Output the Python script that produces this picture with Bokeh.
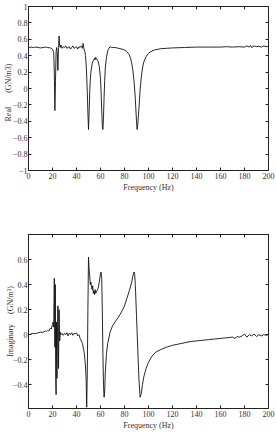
from bokeh.plotting import figure
from bokeh.layouts import column
from bokeh.models import Range1d, FixedTicker, LinearAxis
from bokeh.embed import file_html
from bokeh.resources import INLINE

# ---- data ----
real_freq = [0, 2, 4, 6, 8, 10, 12, 14, 16, 18, 19, 20, 21, 21.5, 22, 22.5, 23, 23.5, 24, 24.5,
             25, 25.5, 26, 26.5, 27, 28, 29, 30, 31, 32, 33, 34, 35, 36, 37, 38, 39, 40, 41, 42,
             43, 44, 45, 45.5, 46, 46.5, 47, 47.5, 48, 48.5, 49, 49.5, 50, 50.5, 51, 51.5, 52, 53,
             54, 55, 55.5, 56, 56.5, 57, 58, 59, 60, 60.5, 61, 61.5, 62, 62.5, 63, 63.5, 64, 65,
             66, 67, 68, 69, 70, 72, 75, 78, 80, 82, 84, 85, 86, 87, 88, 89, 90, 90.5, 91, 92, 93,
             94, 95, 96, 98, 100, 102, 105, 110, 115, 120, 130, 140, 150, 160, 165, 170, 175, 180,
             182, 184, 185, 186, 188, 190, 192, 194, 196, 198, 200]
real_vals = [0.50, 0.505, 0.50, 0.505, 0.50, 0.495, 0.50, 0.505, 0.50, 0.495, 0.49, 0.48, 0.44,
             0.20, -0.27, 0.10, 0.45, 0.50, 0.42, 0.22, 0.50, 0.64, 0.52, 0.50, 0.53, 0.49, 0.51,
             0.50, 0.52, 0.49, 0.50, 0.51, 0.48, 0.50, 0.52, 0.49, 0.50, 0.51, 0.48, 0.51, 0.50,
             0.52, 0.49, 0.55, 0.50, 0.47, 0.45, 0.40, 0.30, 0.15, -0.05, -0.30, -0.50, -0.30,
             -0.05, 0.10, 0.20, 0.30, 0.34, 0.37, 0.35, 0.38, 0.36, 0.36, 0.33, 0.27, 0.12, -0.05,
             -0.25, -0.45, -0.50, -0.35, -0.10, 0.10, 0.25, 0.38, 0.46, 0.49, 0.51, 0.50, 0.50,
             0.50, 0.49, 0.48, 0.47, 0.45, 0.41, 0.37, 0.31, 0.22, 0.08, -0.12, -0.40, -0.50,
             -0.45, -0.25, -0.02, 0.14, 0.25, 0.32, 0.39, 0.43, 0.45, 0.47, 0.485, 0.49, 0.495,
             0.50, 0.505, 0.505, 0.505, 0.51, 0.505, 0.51, 0.505, 0.52, 0.505, 0.525, 0.50, 0.52,
             0.51, 0.515, 0.505, 0.52, 0.51, 0.515]

imag_freq = [0, 2, 4, 6, 8, 10, 12, 14, 15, 16, 17, 18, 19, 20, 20.5, 21, 21.5, 22, 22.3, 22.7,
             23, 23.3, 23.7, 24, 24.5, 25, 25.5, 26, 26.5, 27, 28, 29, 30, 31, 32, 33, 34, 35, 36,
             37, 38, 39, 40, 41, 42, 43, 44, 45, 45.5, 46, 46.5, 47, 47.5, 48, 48.5, 49, 49.5, 50,
             50.5, 51, 51.5, 52, 52.5, 53, 53.5, 54, 54.5, 55, 55.5, 56, 57, 58, 59, 60, 60.5, 61,
             61.5, 62, 62.5, 63, 63.5, 64, 65, 66, 68, 70, 72, 75, 78, 80, 82, 84, 86, 87, 88, 88.5,
             89, 90, 91, 92, 93, 94, 95, 96, 98, 100, 103, 106, 110, 115, 120, 125, 130, 135, 140,
             145, 150, 155, 160, 165, 170, 172, 174, 176, 178, 180, 182, 184, 186, 188, 190, 192,
             194, 196, 198, 200]
imag_vals = [0.0, 0.005, 0.01, 0.008, 0.015, 0.02, 0.018, 0.03, 0.025, 0.035, 0.03, 0.05, 0.045,
             0.08, 0.10, 0.06, 0.45, -0.10, 0.40, -0.35, -0.48, 0.10, -0.35, -0.10, 0.23, -0.27,
             0.20, -0.05, 0.02, 0.0, 0.01, -0.005, 0.01, 0.0, 0.015, -0.01, 0.012, 0.0, 0.015,
             -0.005, 0.01, 0.005, 0.015, -0.01, 0.0, -0.03, -0.05, -0.07, -0.10, -0.12, -0.15,
             -0.20, -0.25, -0.35, -0.58, -0.30, 0.20, 0.62, 0.52, 0.47, 0.40, 0.42, 0.38, 0.36,
             0.39, 0.33, 0.35, 0.32, 0.36, 0.33, 0.35, 0.37, 0.42, 0.49, 0.50, 0.45, 0.20, -0.15,
             -0.40, -0.50, -0.45, -0.30, -0.15, -0.07, 0.02, 0.07, 0.10, 0.14, 0.19, 0.23, 0.29,
             0.35, 0.42, 0.47, 0.50, 0.48, 0.40, 0.15, -0.10, -0.35, -0.50, -0.47, -0.40, -0.34,
             -0.27, -0.22, -0.17, -0.14, -0.12, -0.10, -0.085, -0.075, -0.065, -0.055, -0.05,
             -0.045, -0.04, -0.035, -0.03, -0.025, -0.02, -0.03, -0.015, -0.02, -0.01, 0.005,
             -0.02, 0.0, -0.01, 0.005, -0.015, 0.0, -0.01, 0.0, -0.005, 0.0]

x_ticks = [0, 20, 40, 60, 80, 100, 120, 140, 160, 180, 200]
real_ticks = [-1, -0.8, -0.6, -0.4, -0.2, 0, 0.2, 0.4, 0.6, 0.8, 1]
imag_ticks = [-0.4, -0.2, 0, 0.2, 0.4, 0.6]

NB = "\u00a0"
real_label = "Real" + NB * 7 + "(GN/m3)" + NB * 4
imag_label = "Imaginary" + NB * 5 + "(GN/m³)"

FONT = "Liberation Serif"
TICK_FS = "8px"
LAB_FS = "8px"
INK = "#222222"
TXT = "#333333"


def style_axis(ax, ticks, show_labels=True):
    ax.ticker = FixedTicker(ticks=ticks)
    ax.major_tick_in = 3
    ax.major_tick_out = 0
    ax.minor_tick_line_color = None
    ax.axis_line_color = INK
    ax.major_tick_line_color = INK
    ax.major_label_text_font = FONT
    ax.major_label_text_font_size = TICK_FS
    ax.major_label_text_color = TXT
    ax.major_label_standoff = 2
    if not show_labels:
        ax.major_label_overrides = {t: "" for t in ticks}
        ax.major_label_standoff = 0


def style_label(ax, text, standoff):
    ax.axis_label = text
    ax.axis_label_text_font = FONT
    ax.axis_label_text_font_style = "normal"
    ax.axis_label_text_font_size = LAB_FS
    ax.axis_label_text_color = TXT
    ax.axis_label_standoff = standoff


def make_fig(width, height, yr, yticks, ylabel, ylabel_standoff, borders):
    p = figure(width=width, height=height, x_range=Range1d(0, 200), y_range=yr,
               output_backend="svg", toolbar_location=None, tools="")
    p.min_border_left, p.min_border_right, p.min_border_top, p.min_border_bottom = borders
    p.grid.visible = False
    p.outline_line_color = INK
    p.background_fill_color = "white"
    p.border_fill_color = "white"
    style_axis(p.xaxis[0], x_ticks)
    style_axis(p.yaxis[0], yticks)
    p.yaxis[0].major_label_standoff = 1
    style_label(p.xaxis[0], "Frequency (Hz)", 1)
    style_label(p.yaxis[0], ylabel, ylabel_standoff)
    top = LinearAxis()
    style_axis(top, x_ticks, show_labels=False)
    p.add_layout(top, "above")
    right = LinearAxis()
    style_axis(right, yticks, show_labels=False)
    p.add_layout(right, "right")
    return p


# ---- top: real part ----
p1 = make_fig(276, 216, Range1d(-1, 1), real_ticks, real_label, -3, (10, 8, 6, 46))
p1.line(real_freq, real_vals, line_color="#111111", line_width=0.9)

# ---- bottom: imaginary part ----
p2 = make_fig(276, 216, Range1d(-0.59, 0.8), imag_ticks, imag_label, -5, (10, 1, 18, 22))
p2.line(imag_freq, imag_vals, line_color="#111111", line_width=0.9)

layout = column(p1, p2, spacing=0)
open("out.html", "w").write(file_html(layout, INLINE))
